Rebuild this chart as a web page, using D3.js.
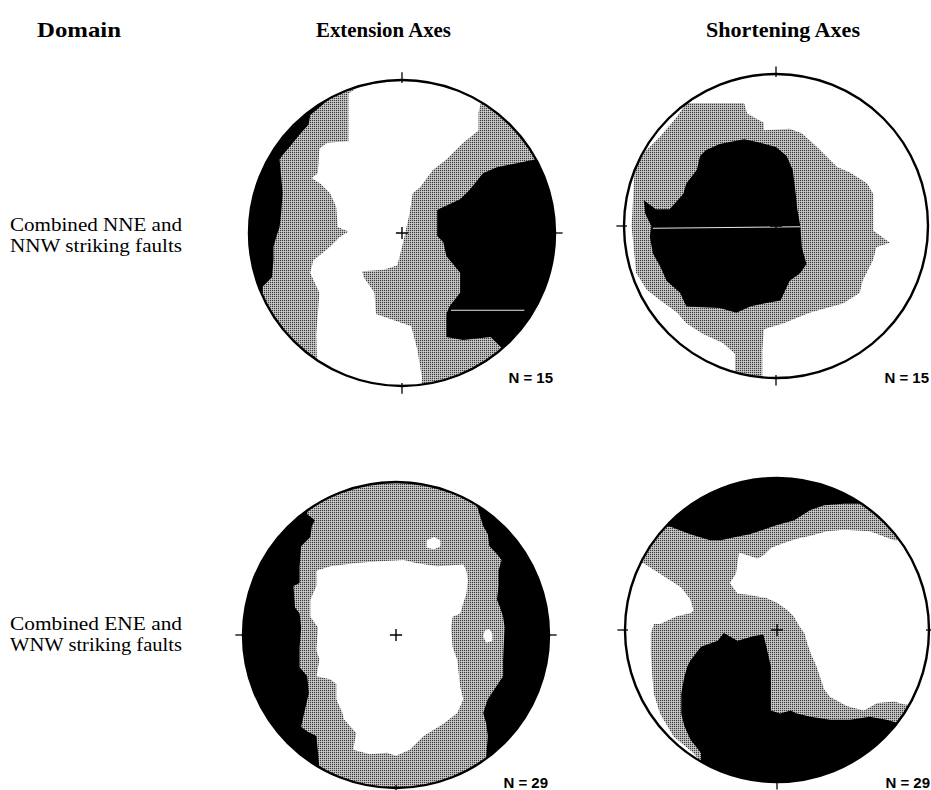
<!DOCTYPE html>
<html>
<head>
<meta charset="utf-8">
<script src="https://cdn.jsdelivr.net/npm/d3@7/dist/d3.min.js"></script>
<style>
  body { margin: 0; background: #fff; }
  svg { display: block; }
</style>
</head>
<body>
<svg id="fig" width="931" height="790"></svg>
<script>
// ---------------------------------------------------------------------------
// Headings and labels
// ---------------------------------------------------------------------------
const columnTitles = ["Domain", "Extension Axes", "Shortening Axes"];
const domainLabels = [
  ["Combined NNE and", "NNW striking faults"],
  ["Combined ENE and", "WNW striking faults"]
];
// Number of fault-slip data in each net: [row][column]
const sampleCounts = [[15, 15], [29, 29]];

// ---------------------------------------------------------------------------
// Contoured density regions, equal-area net coordinates
// (percent of the primitive-circle radius, east = +x, north = +y).
// Each array is one closed boundary; parts that run outside the
// primitive circle are trimmed by the circle itself.
// ---------------------------------------------------------------------------

// NNE/NNW domain, extension axes (background class: intermediate)
const nneExtLow = [
  [-30,110],[-31,94],[-35,91],[-35,60],[-49,59],[-54,55],[-55,39],[-59,36],
  [-53,32],[-47,26],[-43,17],[-42,4],[-35,1],[-41,-3],[-47,-9],[-58,-18],
  [-60,-26],[-54,-39],[-55,-53],[-56,-66],[-55,-110],[13,-110],[13,-94],
  [10,-76],[6,-61],[-17,-53],[-18,-39],[-25,-29],[-26,-25],[-12,-24],
  [-3,-21],[-1,-13],[1,-5],[3,4],[5,13],[7,26],[12,30],[20,41],[29,48],
  [40,59],[50,67],[50,79],[58,110]
];
const nneExtHighWest = [
  [-47,88],[-60,77],[-61,71],[-68,63],[-72,58],[-78,51],[-80,48],[-79,37],
  [-78,26],[-79,13],[-80,4],[-82,-2],[-84,-9],[-84,-18],[-85,-29],[-91,-35],
  [-91,-39],[-120,-40],[-120,120],[-47,120]
];
const nneExtHighEast = [
  [87,48],[62,43],[53,39],[44,28],[38,22],[27,17],[23,15],[23,-2],[27,-6],
  [29,-15],[38,-26],[38,-39],[31,-48],[29,-53],[29,-68],[40,-70],[58,-68],
  [66,-76],[120,-120],[120,48]
];
const nneExtStreaks = [[[32,-50.5],[80,-50.5]]];

// NNE/NNW domain, shortening axes (background class: low)
const nneShoMid = [
  [-59,81],[-21,81],[-19,74],[-8,68],[-8,63],[9,64],[17,61],[27,52],[40,39],
  [49,35],[60,28],[64,21],[64,-3],[75,-11],[66,-14],[64,-22],[57,-36],
  [55,-44],[44,-51],[22,-57],[5,-64],[-8,-68],[-9,-82],[-9,-110],[-27,-110],
  [-27,-84],[-35,-77],[-48,-71],[-59,-64],[-65,-57],[-76,-49],[-85,-42],
  [-92,-31],[-95,0],[-93,37],[-87,48],[-76,59],[-65,72]
];
const nneShoHigh = [
  [-46,50],[-37,54],[-21,57],[-11,55],[0,52],[7,46],[11,37],[13,21],[14,11],
  [16,0],[17,-14],[20,-25],[16,-31],[9,-36],[3,-49],[-8,-51],[-17,-53],
  [-26,-57],[-37,-54],[-59,-53],[-63,-44],[-72,-36],[-76,-27],[-81,-18],
  [-83,-7],[-82,0],[-86,8],[-87,17],[-79,11],[-70,11],[-61,21],[-59,28],
  [-52,37],[-50,46]
];
const nneShoStreaks = [[[-81,-1.5],[16,-0.5]]];

// ENE/WNW domain, extension axes (background class: high)
const eneExtMid = [
  [-58,110],[-58,79],[-53,75],[-55,71],[-56,64],[-62,58],[-63,45],[-63,34],
  [-67,32],[-66,18],[-63,14],[-62,5],[-63,-8],[-63,-21],[-58,-27],[-57,-38],
  [-60,-51],[-62,-60],[-58,-63],[-52,-66],[-51,-77],[-50,-88],[-50,-110],
  [59,-110],[59,-79],[60,-66],[59,-58],[57,-51],[60,-42],[70,-27],[70,-16],
  [71,5],[70,12],[68,18],[66,23],[67,32],[67,42],[69,49],[66,53],[61,58],
  [60,66],[57,71],[53,84],[55,110]
];
const eneExtLow = [
  [-52,42],[-43,45],[-26,47],[-13,48],[5,49],[13,47],[27,45],[44,46],[46,42],
  [47,36],[46,27],[44,21],[42,14],[37,12],[36,5],[37,-8],[40,-16],[42,-34],
  [44,-42],[40,-51],[31,-58],[18,-66],[9,-75],[0,-79],[-6,-77],[-17,-78],
  [-28,-75],[-26,-64],[-34,-55],[-35,-51],[-39,-42],[-39,-32],[-43,-29],
  [-52,-27],[-50,-16],[-52,-10],[-51,5],[-56,12],[-56,23],[-52,32]
];
const eneExtLowSpots = [
  [[20,62],[25,64],[29,62],[29,58],[25,56],[20,57]],
  [[58,3],[61,4],[63,1],[63,-4],[59,-5],[57,-1]]
];

// ENE/WNW domain, shortening axes (background class: intermediate)
const eneShoHighNorth = [
  [-110,110],[110,110],[110,62],[79,62],[72,74],[66,79],[57,83],[44,83],
  [31,82],[22,79],[11,72],[0,69],[-9,66],[-18,63],[-28,61],[-37,59],[-44,59],
  [-57,63],[-70,68],[-110,70]
];
const eneShoLowEast = [
  [-27,37],[-25,51],[-13,47],[-9,49],[-4,54],[4,57],[13,60],[22,62],[33,65],
  [44,66],[61,65],[77,59],[110,59],[110,-50],[84,-49],[77,-47],[66,-48],
  [57,-53],[46,-50],[35,-44],[31,-39],[26,-24],[22,-15],[20,-9],[18,-2],
  [15,2],[11,9],[7,13],[0,18],[-7,21],[-18,23],[-26,24],[-31,31]
];
const eneShoLowWest = [
  [-88,44],[-77,37],[-63,28],[-57,20],[-55,13],[-57,11],[-66,9],[-77,4],
  [-81,4],[-83,-2],[-83,-15],[-82,-31],[-81,-42],[-77,-55],[-68,-70],
  [-55,-81],[-49,-88],[-60,-110],[-110,-110],[-110,44]
];
const eneShoHighSouth = [
  [-59,-24],[-57,-20],[-50,-11],[-39,-7],[-35,-2],[-26,-7],[-15,-4],[-9,-3],
  [-7,-11],[-4,-24],[-4,-42],[-4,-53],[2,-55],[9,-53],[13,-55],[22,-57],
  [35,-59],[48,-59],[61,-57],[72,-59],[79,-61],[110,-61],[110,-110],
  [-50,-110],[-50,-81],[-57,-72],[-61,-63],[-63,-55],[-63,-42],[-61,-31]
];

// Primitive-circle tick marks drawn on each net
const netTicks = [["N", "E", "S"], ["N", "W", "S"], ["W", "E", "S"], ["W", "E", "S"]];

// ---------------------------------------------------------------------------
// Figure assembly
// ---------------------------------------------------------------------------
const svg = d3.select("#fig");
const defs = svg.append("defs");

// Halftone stipple used for the intermediate density class
const stipple = defs.append("pattern")
  .attr("id", "stipple")
  .attr("patternUnits", "userSpaceOnUse")
  .attr("width", 2).attr("height", 2);
stipple.append("rect").attr("width", 2).attr("height", 2).attr("fill", "#b2b2b2");
stipple.append("rect").attr("x", 0).attr("y", 0).attr("width", 1).attr("height", 1).attr("fill", "#3c3c3c");
stipple.append("rect").attr("x", 1).attr("y", 1).attr("width", 1).attr("height", 1).attr("fill", "#cdcdcd");

const classFill = { low: "#ffffff", mid: "url(#stipple)", high: "#000000" };

const nets = [
  { key: "nne-ext", cx: 402, cy: 233, r: 153, base: "mid",
    layers: [["high", [nneExtHighWest]], ["low", [nneExtLow]], ["high", [nneExtHighEast]]],
    streaks: nneExtStreaks, ticks: netTicks[0], n: sampleCounts[0][0], nx: 553, ny: 383 },
  { key: "nne-sho", cx: 776, cy: 226, r: 152, base: "low",
    layers: [["mid", [nneShoMid]], ["high", [nneShoHigh]]],
    streaks: nneShoStreaks, ticks: netTicks[1], n: sampleCounts[0][1], nx: 929, ny: 383 },
  { key: "ene-ext", cx: 396, cy: 635, r: 153, base: "high",
    layers: [["mid", [eneExtMid]], ["low", [eneExtLow]], ["low", eneExtLowSpots]],
    streaks: [], ticks: netTicks[2], n: sampleCounts[1][0], nx: 548, ny: 788 },
  { key: "ene-sho", cx: 777, cy: 630, r: 152, base: "mid",
    layers: [["high", [eneShoHighNorth]], ["low", [eneShoLowEast]], ["low", [eneShoLowWest]], ["high", [eneShoHighSouth]]],
    streaks: [], ticks: netTicks[3], n: sampleCounts[1][1], nx: 930, ny: 788 }
];

const tickDir = { N: [0, 1], S: [0, -1], E: [1, 0], W: [-1, 0] };

nets.forEach(net => {
  const x = d3.scaleLinear().domain([-100, 100]).range([net.cx - net.r, net.cx + net.r]);
  const y = d3.scaleLinear().domain([-100, 100]).range([net.cy + net.r, net.cy - net.r]);
  const ring = d3.line().x(d => x(d[0])).y(d => y(d[1])).curve(d3.curveLinearClosed);
  const seg = d3.line().x(d => x(d[0])).y(d => y(d[1]));

  defs.append("clipPath").attr("id", "clip-" + net.key)
    .append("circle").attr("cx", x(0)).attr("cy", y(0)).attr("r", x(100) - x(0));

  const g = svg.append("g").attr("class", "net " + net.key);
  const inner = g.append("g").attr("clip-path", `url(#clip-${net.key})`);

  inner.append("circle")
    .attr("cx", x(0)).attr("cy", y(0)).attr("r", x(100) - x(0))
    .attr("fill", classFill[net.base]);

  net.layers.forEach(([cls, rings]) => {
    inner.selectAll(null).data(rings).join("path")
      .attr("d", ring)
      .attr("fill", classFill[cls]);
  });

  inner.selectAll(null).data(net.streaks).join("path")
    .attr("d", seg)
    .attr("fill", "none")
    .attr("stroke", "#e8e8e8")
    .attr("stroke-width", 1);

  // primitive circle
  g.append("circle")
    .attr("cx", x(0)).attr("cy", y(0)).attr("r", x(100) - x(0))
    .attr("fill", "none").attr("stroke", "#000").attr("stroke-width", 2.4);

  // cardinal ticks
  g.selectAll(null).data(net.ticks).join("line")
    .attr("x1", d => x(tickDir[d][0] * 98)).attr("y1", d => y(tickDir[d][1] * 98))
    .attr("x2", d => x(tickDir[d][0] * 105)).attr("y2", d => y(tickDir[d][1] * 105))
    .attr("stroke", "#000").attr("stroke-width", 1.3);

  // centre cross
  g.append("path")
    .attr("d", seg([[-4, 0], [4, 0]]) + seg([[0, -4], [0, 4]]))
    .attr("stroke", "#000").attr("stroke-width", 1.4).attr("fill", "none");

  // sample size
  g.append("text")
    .attr("x", net.nx).attr("y", net.ny)
    .attr("text-anchor", "end")
    .attr("font-family", "'Liberation Sans', Arial, sans-serif")
    .attr("font-weight", "bold").attr("font-size", 15)
    .text(`N = ${net.n}`);
});

// Column headings
const titleX = [37, 316, 706];
const titleW = [84, 135, 154];
svg.selectAll("text.title").data(columnTitles).join("text")
  .attr("class", "title")
  .attr("x", (d, i) => titleX[i]).attr("y", 37)
  .attr("font-family", "'Liberation Serif', 'Times New Roman', serif")
  .attr("font-weight", "bold").attr("font-size", 22)
  .attr("textLength", (d, i) => titleW[i])
  .attr("lengthAdjust", "spacingAndGlyphs")
  .text(d => d);

// Row labels (domain names), one text element per line
const rowY = [231, 630];
domainLabels.forEach((lines, i) => {
  svg.selectAll(null).data(lines).join("text")
    .attr("class", "domain")
    .attr("x", 10).attr("y", (d, j) => rowY[i] + j * 21)
    .attr("font-family", "'Liberation Serif', 'Times New Roman', serif")
    .attr("font-size", 18)
    .attr("textLength", 172)
    .attr("lengthAdjust", "spacingAndGlyphs")
    .text(d => d);
});
</script>
</body>
</html>
